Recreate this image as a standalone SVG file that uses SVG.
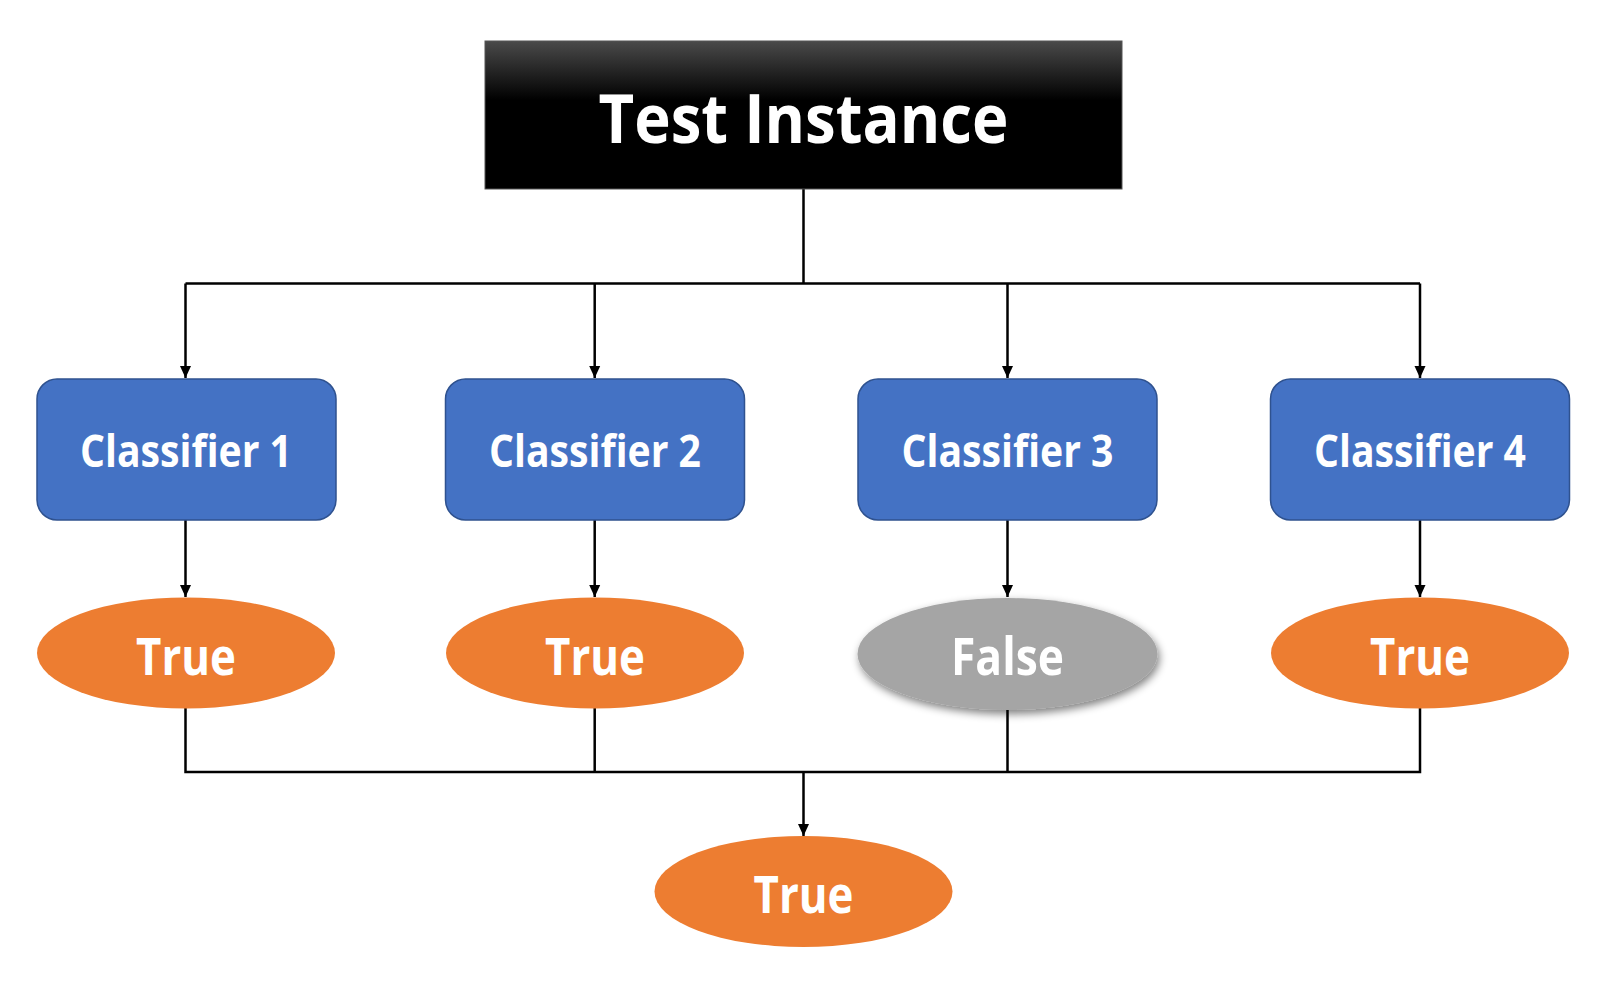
<svg xmlns="http://www.w3.org/2000/svg" width="1605" height="994" viewBox="0 0 1605 994">
<defs>
<linearGradient id="blk" x1="0" y1="0" x2="0" y2="1">
<stop offset="0" stop-color="#4a4a4a"/>
<stop offset="0.4" stop-color="#000"/>
<stop offset="1" stop-color="#000"/>
</linearGradient>
<marker id="arr" markerWidth="12" markerHeight="12" refX="12" refY="6" orient="auto" markerUnits="userSpaceOnUse" viewBox="0 0 12 12">
<path d="M0,0.5 L12,6 L0,11.5 Z" fill="#000"/>
</marker>
<filter id="sh" x="-20%" y="-20%" width="140%" height="150%">
<feGaussianBlur in="SourceAlpha" stdDeviation="4"/>
<feOffset dx="2" dy="4" result="b"/>
<feComponentTransfer><feFuncA type="linear" slope="0.5"/></feComponentTransfer>
<feMerge><feMergeNode/><feMergeNode in="SourceGraphic"/></feMerge>
</filter>
</defs>
<style>
.lbl{font-family:"Open Sans","Noto Sans","Liberation Sans",sans-serif;font-weight:bold;fill:#fff;text-anchor:middle}
.cls{fill:#4472C4;stroke:#2F528F;stroke-width:1.5}
.org{fill:#ED7D31}
.gry{fill:#A5A5A5}
.ln{fill:none;stroke:#000;stroke-width:2.5}
</style>
<rect width="1605" height="994" fill="#fff"/>
<g id="connectors">
<path class="ln" d="M803.5,189 V283.5 M185.5,283.5 H1420"/>
<path class="ln" d="M185.5,283.5 V378" marker-end="url(#arr)"/>
<path class="ln" d="M594.7,283.5 V378" marker-end="url(#arr)"/>
<path class="ln" d="M1007.5,283.5 V378" marker-end="url(#arr)"/>
<path class="ln" d="M1420,283.5 V378" marker-end="url(#arr)"/>
<path class="ln" d="M185.5,520 V597" marker-end="url(#arr)"/>
<path class="ln" d="M594.7,520 V597" marker-end="url(#arr)"/>
<path class="ln" d="M1007.5,520 V597" marker-end="url(#arr)"/>
<path class="ln" d="M1420,520 V597" marker-end="url(#arr)"/>
<path class="ln" d="M185.5,708 V772 H1420 V708 M594.7,708 V772 M1007.5,708 V772"/>
<path class="ln" d="M803.5,772 V836" marker-end="url(#arr)"/>
</g>
<g id="test-instance">
<rect x="485" y="41" width="637" height="148" fill="url(#blk)" stroke="#555" stroke-width="1"/>
<text class="lbl" x="803.5" y="143" font-size="68" textLength="410" lengthAdjust="spacingAndGlyphs">Test Instance</text>
</g>
<g id="classifier-1">
<rect class="cls" x="37" y="379" width="299" height="141" rx="20"/>
<text class="lbl" x="186" y="467" font-size="44" textLength="212" lengthAdjust="spacingAndGlyphs">Classifier 1</text>
</g>
<g id="classifier-2">
<rect class="cls" x="445.5" y="379" width="299" height="141" rx="20"/>
<text class="lbl" x="595" y="467" font-size="44" textLength="212" lengthAdjust="spacingAndGlyphs">Classifier 2</text>
</g>
<g id="classifier-3">
<rect class="cls" x="858" y="379" width="299" height="141" rx="20"/>
<text class="lbl" x="1007.5" y="467" font-size="44" textLength="212" lengthAdjust="spacingAndGlyphs">Classifier 3</text>
</g>
<g id="classifier-4">
<rect class="cls" x="1270.5" y="379" width="299" height="141" rx="20"/>
<text class="lbl" x="1420" y="467" font-size="44" textLength="212" lengthAdjust="spacingAndGlyphs">Classifier 4</text>
</g>
<g id="result-1">
<ellipse class="org" cx="186" cy="653" rx="149" ry="55.5"/>
<text class="lbl" x="186" y="675" font-size="52" textLength="100" lengthAdjust="spacingAndGlyphs">True</text>
</g>
<g id="result-2">
<ellipse class="org" cx="595" cy="653" rx="149" ry="55.5"/>
<text class="lbl" x="595" y="675" font-size="52" textLength="100" lengthAdjust="spacingAndGlyphs">True</text>
</g>
<g id="result-3">
<ellipse class="gry" cx="1007.5" cy="654" rx="150" ry="56" filter="url(#sh)"/>
<text class="lbl" x="1007.5" y="675" font-size="52" textLength="113" lengthAdjust="spacingAndGlyphs">False</text>
</g>
<g id="result-4">
<ellipse class="org" cx="1420" cy="653" rx="149" ry="55.5"/>
<text class="lbl" x="1420" y="675" font-size="52" textLength="100" lengthAdjust="spacingAndGlyphs">True</text>
</g>
<g id="final-result">
<ellipse class="org" cx="803.5" cy="891.5" rx="149" ry="55.5"/>
<text class="lbl" x="803.5" y="913" font-size="52" textLength="100" lengthAdjust="spacingAndGlyphs">True</text>
</g>
</svg>
